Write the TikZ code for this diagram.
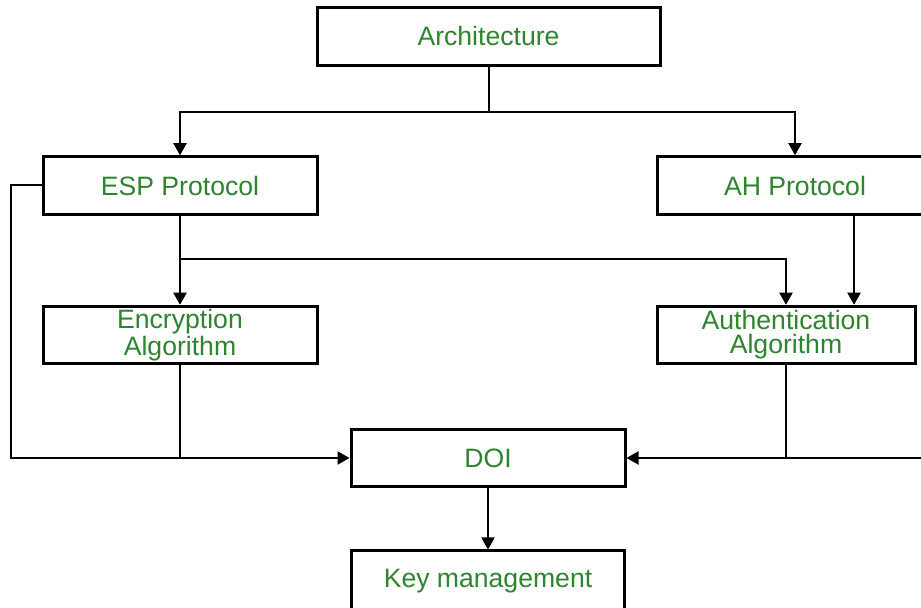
\documentclass[tikz,border=0pt]{standalone}
\usepackage{fontspec}
\setmainfont{Liberation Sans}
\usepackage{tikz}
\usepackage[dvipsnames]{xcolor}
\usetikzlibrary{arrows.meta,calc}
\definecolor{labelgreen}{RGB}{46,133,46}

\begin{document}
\begin{tikzpicture}[x=0.5pt, y=-0.5pt,
        blockbox/.style={draw=black, line width=1.5pt, fill=white, align=center, inner sep=0pt,
            text=labelgreen, font=\fontsize{13.3}{12}\selectfont, minimum height=28.75pt},
        link/.style={line width=1pt},
        arrowlink/.style={link, -{Triangle[length=6pt, width=6.5pt]}}]
        \useasboundingbox (0,0) rectangle (921,608);
        \clip (0,0) rectangle (921,608);
        \node[blockbox, minimum width=171.5pt] (arch) at (488.5,36.5) {Architecture};
        \node[blockbox, minimum width=137pt] (esp) at (180,185.5) {ESP Protocol};
        \node[blockbox, minimum width=138pt] (ah) at (795,185.5) {AH Protocol};
        \node[blockbox, minimum width=137pt] (enc) at (180,335) {Encryption\\Algorithm};
        \node[blockbox, minimum width=129pt] (auth) at (786,335) {Authentication\\Algorithm};
        \node[blockbox, minimum width=137pt] (doi) at (488,458) {DOI};
        \node[blockbox, minimum width=136.5pt, minimum height=30pt] (key) at (488,581) {Key management};
        \coordinate (split) at (488.5,112);
        \coordinate (branch) at (180,259);
        \coordinate (leftloop) at (11,458);
        \coordinate (rightloop) at (950,458);
        \draw[link] (arch.south) -- (split);
        \draw[arrowlink] (split) -| (esp.north);
        \draw[arrowlink] (split) -| (ah.north);
        \draw[arrowlink] (esp.south) -- (enc.north);
        \draw[arrowlink] (branch) -| (auth.north);
        \draw[arrowlink] ($(ah.south)+(59,0)$) -- ($(auth.north)+(68,0)$);
        \draw[arrowlink] (esp.west) -| (leftloop) -- (doi.west);
        \draw[arrowlink] (ah.east) -| (rightloop) -- (doi.east);
        \draw[link] (enc.south) -- (enc.south |- doi.west);
        \draw[link] (auth.south) -- (auth.south |- doi.east);
        \draw[arrowlink] (doi.south) -- (key.north);
    \end{tikzpicture}
\end{document}
